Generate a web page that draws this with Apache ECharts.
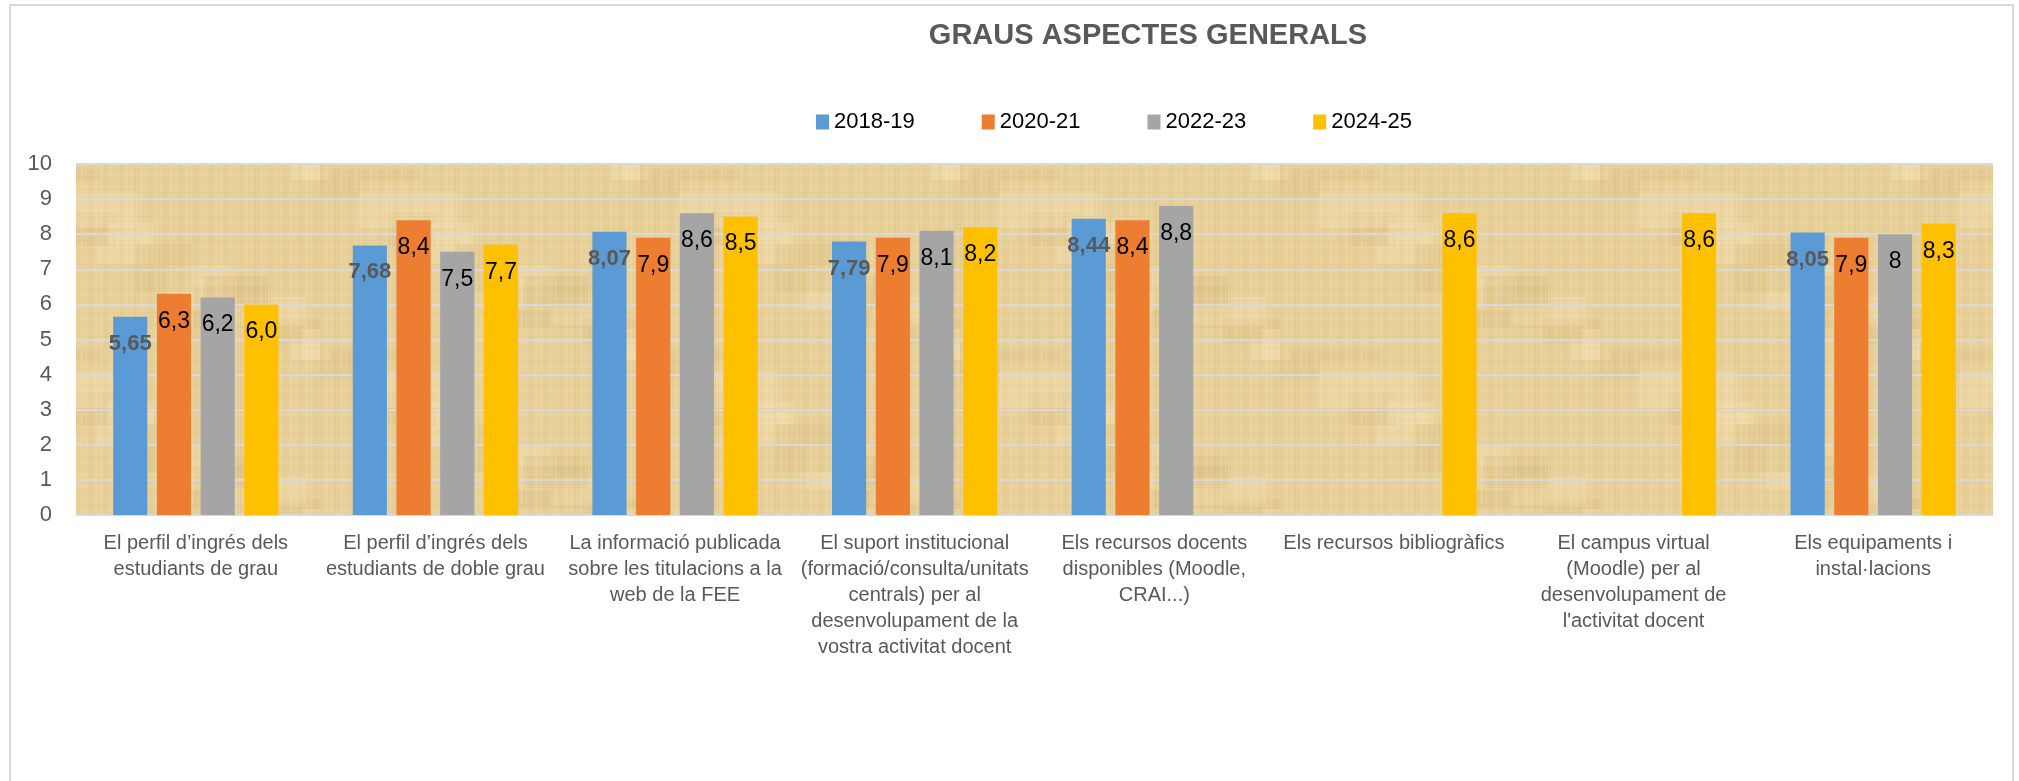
<!DOCTYPE html>
<html>
<head>
<meta charset="utf-8">
<title>GRAUS ASPECTES GENERALS</title>
<script src="https://cdn.jsdelivr.net/npm/echarts@6/dist/echarts.min.js"></script>
<style>
  html, body { margin: 0; padding: 0; background: #fff; }
  #chart { width: 2019px; height: 781px; }
</style>
</head>
<body>
<div id="chart"></div>
<script>
// categories (salts de línia com a l'original)
var categories = [
  'El perfil d\u2019ingrés dels\nestudiants de grau',
  'El perfil d\u2019ingrés dels\nestudiants de doble grau',
  'La informació publicada\nsobre les titulacions a la\nweb de la FEE',
  'El suport institucional\n(formació/consulta/unitats\ncentrals) per al\ndesenvolupament de la\nvostra activitat docent',
  'Els recursos docents\ndisponibles (Moodle,\nCRAI...)',
  'Els recursos bibliogràfics',
  'El campus virtual\n(Moodle) per al\ndesenvolupament de\nl\'activitat docent',
  'Els equipaments i\ninstal·lacions'
];
var seriesNames = ['2018-19', '2020-21', '2022-23', '2024-25'];
var values1819 = [5.65, 7.68, 8.07, 7.79, 8.44, '-', '-', 8.05];
var values2021 = [6.3, 8.4, 7.9, 7.9, 8.4, '-', '-', 7.9];
var values2223 = [6.2, 7.5, 8.6, 8.1, 8.8, '-', '-', 8];
var values2425 = [6.0, 7.7, 8.5, 8.2, '-', 8.6, 8.6, 8.3];
var yTicks = [0, 1, 2, 3, 4, 5, 6, 7, 8, 9, 10];

var colors = ['#5B9BD5', '#ED7D31', '#A5A5A5', '#FFC000'];
var allValues = [values1819, values2021, values2223, values2425];

// textura tipus papir (fons del gràfic)
function makeTexture() {
  var c = document.createElement('canvas');
  c.width = 320; c.height = 180;
  var ctx = c.getContext('2d');
  ctx.fillStyle = '#e7cf98';
  ctx.fillRect(0, 0, 320, 180);
  // taques suaus
  for (var b = 0; b < 14; b++) {
    var x = (b * 97) % 320, y = (b * 53) % 180;
    ctx.fillStyle = b % 2 ? 'rgba(245,228,185,0.3)' : 'rgba(212,184,120,0.25)';
    ctx.fillRect(x, y, 40 + (b * 17) % 60, 20 + (b * 11) % 30);
  }
  // fibres verticals i horitzontals
  for (var i = 0; i < 320; i += 5) {
    ctx.fillStyle = (i / 5) % 3 === 0 ? 'rgba(205,175,110,0.18)' : 'rgba(248,232,192,0.18)';
    ctx.fillRect(i, 0, 1 + (i % 3), 180);
  }
  for (var j = 0; j < 180; j += 6) {
    ctx.fillStyle = (j / 6) % 2 === 0 ? 'rgba(210,182,118,0.15)' : 'rgba(248,232,192,0.15)';
    ctx.fillRect(0, j, 320, 1 + (j % 2));
  }
  return c;
}

function fmt(v, fixed) {
  var s = fixed ? Number(v).toFixed(1) : String(v);
  return s.replace('.', ',');
}

var series = [];
for (var k = 0; k < seriesNames.length; k++) {
  (function (k) {
    series.push({
      name: seriesNames[k],
      type: 'bar',
      data: allValues[k],
      barGap: '28%',
      barCategoryGap: '31%',
      itemStyle: { color: colors[k] },
      label: {
        show: true,
        position: 'insideTop',
        distance: 16,
        fontFamily: 'Liberation Sans',
        fontSize: k === 0 ? 22 : 23,
        fontWeight: k === 0 ? 'bold' : 'normal',
        color: k === 0 ? '#595959' : '#000',
        formatter: function (p) { return fmt(p.value, k === 3); }
      }
    });
  })(k);
}

var myChart = echarts.init(document.getElementById('chart'));
myChart.setOption({
  animation: false,
  textStyle: { fontFamily: 'Liberation Sans' },
  title: {
    text: 'GRAUS ASPECTES GENERALS',
    left: 1143, top: 16, textAlign: 'center',
    textStyle: { fontSize: 29, fontWeight: 'bold', color: '#595959', fontFamily: 'Liberation Sans' }
  },
  legend: {
    data: seriesNames,
    left: 811, top: 106, orient: 'horizontal',
    itemWidth: 13, itemHeight: 15, itemGap: 67,
    textStyle: { fontSize: 22, color: '#000' },
    icon: 'rect'
  },
  grid: {
    left: 76, right: 26, top: 164, bottom: 266,
    show: true,
    borderWidth: 0,
    backgroundColor: { image: makeTexture(), repeat: 'repeat' }
  },
  graphic: [{
    type: 'rect',
    shape: { x: 10, y: 5, width: 2003, height: 800 },
    style: { fill: 'none', stroke: '#d9d9d9', lineWidth: 2 },
    silent: true
  }],
  xAxis: {
    type: 'category',
    data: categories,
    axisLine: { show: false },
    axisTick: { show: false },
    axisLabel: {
      interval: 0, margin: 15,
      fontSize: 20, lineHeight: 26, color: '#595959'
    }
  },
  yAxis: {
    type: 'value',
    min: yTicks[0], max: yTicks[yTicks.length - 1], interval: 1,
    axisLine: { show: false },
    axisTick: { show: false },
    axisLabel: { fontSize: 22, color: '#595959', margin: 24 },
    splitLine: { lineStyle: { color: '#d9d9d9', width: 2 } }
  },
  series: series
});
</script>
</body>
</html>
